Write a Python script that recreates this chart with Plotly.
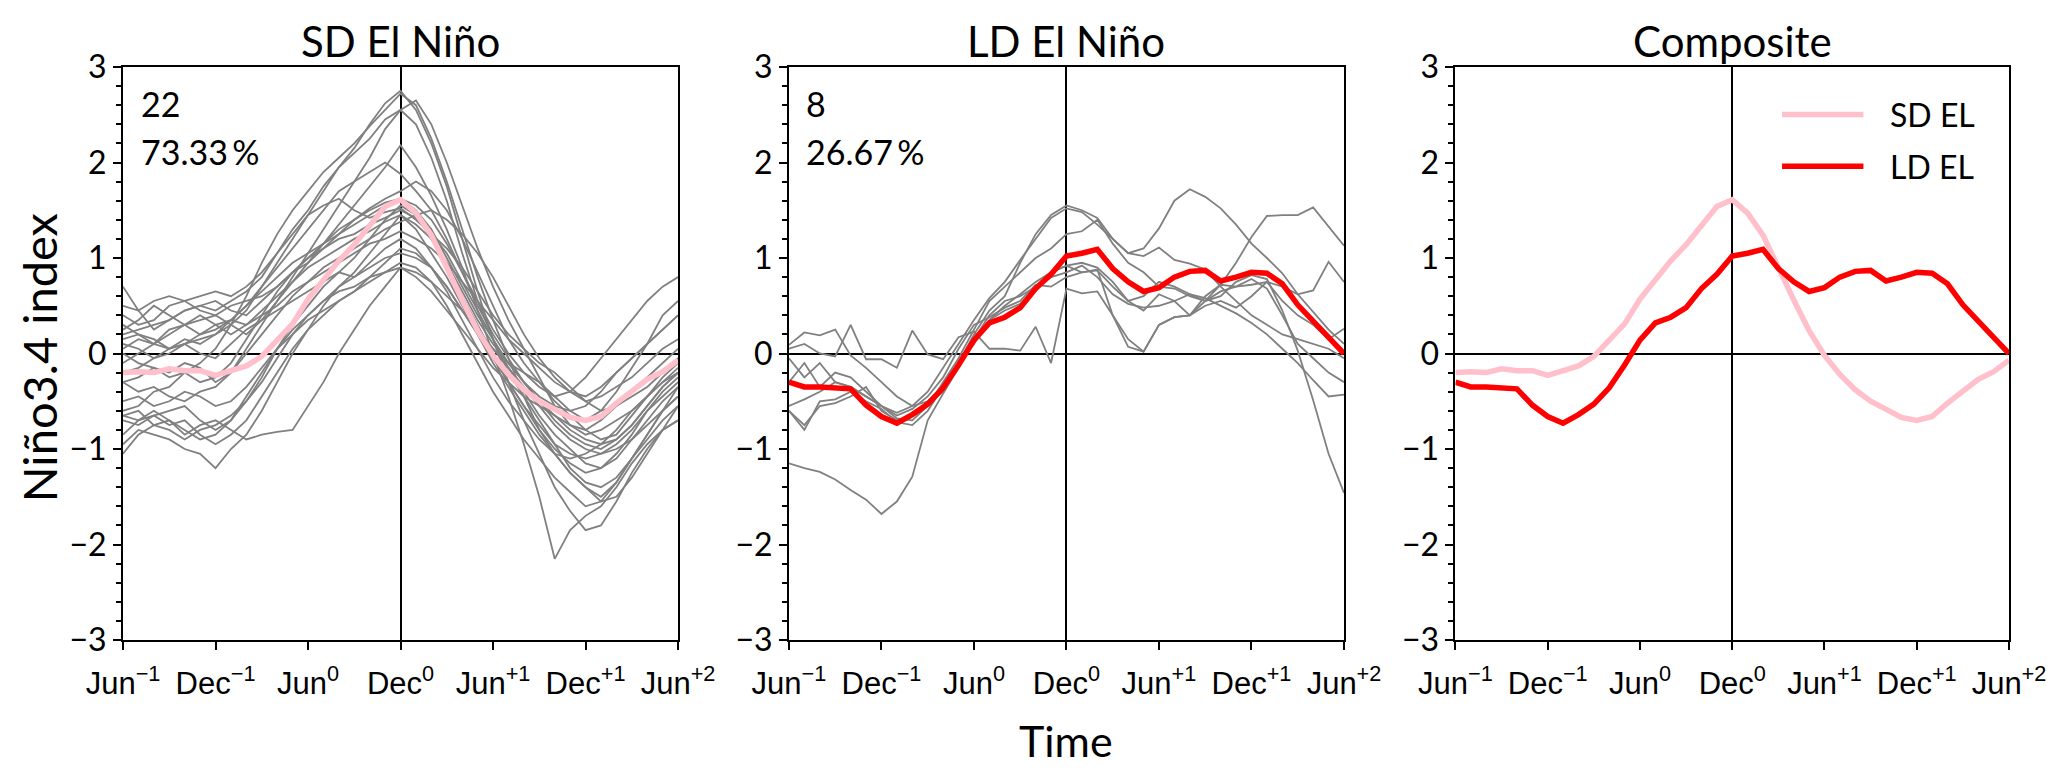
import plotly.graph_objects as go
from plotly.subplots import make_subplots

# Months relative to Dec of the El Nino year (Dec0 = 0), Jun-1 .. Jun+2
MONTHS = list(range(-18, 19))
TICK_VALS = [-18, -12, -6, 0, 6, 12, 18]
TICK_TEXT = [
    "Jun<sup>−1</sup>", "Dec<sup>−1</sup>", "Jun<sup>0</sup>", "Dec<sup>0</sup>",
    "Jun<sup>+1</sup>", "Dec<sup>+1</sup>", "Jun<sup>+2</sup>",
]
PANEL_TITLES = ["SD El Niño", "LD El Niño", "Composite"]

SD_COUNT, SD_SHARE = "22", "73.33\u2009%"
LD_COUNT, LD_SHARE = "8", "26.67\u2009%"

# Composite Nino3.4 index
SD_COMPOSITE = [
    -0.20, -0.19, -0.20, -0.16, -0.18, -0.18, -0.23, -0.18, -0.13, -0.03,
    0.13, 0.31, 0.57, 0.78, 0.97, 1.14, 1.35, 1.54, 1.61, 1.47,
    1.24, 0.89, 0.56, 0.24, -0.02, -0.22, -0.38, -0.50, -0.59, -0.67,
    -0.70, -0.66, -0.52, -0.39, -0.27, -0.19, -0.07,
]
LD_COMPOSITE = [
    -0.30, -0.35, -0.35, -0.36, -0.37, -0.54, -0.66, -0.73, -0.64, -0.53,
    -0.36, -0.12, 0.14, 0.32, 0.38, 0.48, 0.68, 0.83, 1.02, 1.05,
    1.09, 0.89, 0.75, 0.65, 0.69, 0.80, 0.86, 0.87, 0.76, 0.80,
    0.85, 0.84, 0.73, 0.51, 0.33, 0.17, 0.00,
]

# Individual short-duration events
SD_01 = [0.10, 0.05, -0.05, 0.00, 0.10, 0.15, 0.20, 0.30, 0.45, 0.70, 0.95, 1.20, 1.45, 1.70, 1.95, 2.15, 2.40, 2.62, 2.75, 2.55, 2.20, 1.75, 1.20, 0.65, 0.15, -0.30, -0.70, -1.05, -1.40, -1.65, -1.85, -1.80, -1.55, -1.25, -1.00, -0.80, -0.70]
SD_02 = [-0.60, -0.55, -0.40, -0.35, -0.20, -0.10, 0.05, 0.30, 0.60, 0.95, 1.25, 1.50, 1.70, 1.90, 2.05, 2.20, 2.38, 2.55, 2.72, 2.60, 2.25, 1.80, 1.30, 0.80, 0.35, -0.05, -0.45, -0.80, -1.05, -1.25, -1.40, -1.55, -1.50, -1.30, -1.05, -0.80, -0.55]
SD_03 = [0.05, 0.15, 0.10, 0.20, 0.30, 0.35, 0.40, 0.30, 0.20, 0.35, 0.55, 0.80, 1.05, 1.30, 1.55, 1.80, 2.05, 2.35, 2.55, 2.65, 2.40, 2.00, 1.55, 1.10, 0.70, 0.35, 0.05, -0.25, -0.55, -0.75, -0.85, -0.80, -0.70, -0.60, -0.45, -0.30, -0.20]
SD_04 = [0.20, 0.25, 0.30, 0.35, 0.45, 0.50, 0.45, 0.55, 0.65, 0.80, 1.05, 1.30, 1.50, 1.75, 1.95, 2.10, 2.25, 2.45, 2.55, 2.40, 2.05, 1.60, 1.05, 0.55, 0.15, -0.20, -0.45, -0.70, -0.95, -1.20, -1.35, -1.40, -1.30, -1.10, -0.85, -0.60, -0.35]
SD_05 = [-0.30, -0.25, -0.15, -0.20, -0.10, -0.15, -0.30, -0.20, 0.05, 0.30, 0.55, 0.75, 0.95, 1.15, 1.35, 1.55, 1.75, 1.95, 2.18, 1.95, 1.65, 1.30, 0.90, 0.45, 0.00, -0.45, -0.95, -1.50, -2.15, -1.85, -1.70, -1.60, -1.40, -1.15, -0.95, -0.80, -0.70]
SD_06 = [-0.10, 0.00, 0.10, 0.05, 0.15, 0.10, 0.20, 0.35, 0.50, 0.70, 0.90, 1.10, 1.30, 1.50, 1.70, 1.80, 1.90, 2.00, 1.88, 1.70, 1.50, 1.20, 0.85, 0.50, 0.20, -0.05, -0.30, -0.50, -0.65, -0.80, -0.90, -0.95, -0.90, -0.75, -0.55, -0.35, -0.20]
SD_07 = [0.40, 0.30, 0.35, 0.50, 0.55, 0.60, 0.65, 0.60, 0.70, 0.85, 1.05, 1.25, 1.45, 1.55, 1.62, 1.50, 1.42, 1.48, 1.52, 1.40, 1.25, 1.10, 0.90, 0.65, 0.40, 0.20, 0.05, -0.10, -0.20, -0.35, -0.50, -0.60, -0.55, -0.45, -0.35, -0.20, -0.05]
SD_08 = [0.70, 0.45, 0.25, 0.35, 0.45, 0.50, 0.55, 0.45, 0.40, 0.55, 0.70, 0.85, 0.95, 1.10, 1.25, 1.40, 1.52, 1.62, 1.70, 1.80, 1.70, 1.50, 1.20, 0.85, 0.50, 0.15, -0.10, -0.30, -0.50, -0.65, -0.80, -0.90, -0.85, -0.65, -0.45, -0.25, -0.10]
SD_09 = [-0.70, -0.75, -0.65, -0.60, -0.55, -0.70, -0.80, -0.70, -0.50, -0.25, 0.05, 0.30, 0.50, 0.70, 0.85, 1.00, 1.20, 1.40, 1.55, 1.45, 1.20, 0.95, 0.60, 0.30, 0.00, -0.30, -0.55, -0.75, -0.95, -1.05, -1.10, -1.05, -0.95, -0.80, -0.60, -0.45, -0.30]
SD_10 = [-0.95, -0.80, -0.85, -0.90, -1.00, -1.05, -1.20, -1.00, -0.85, -0.60, -0.30, 0.00, 0.25, 0.50, 0.70, 0.85, 1.05, 1.25, 1.45, 1.30, 1.05, 0.80, 0.50, 0.20, -0.10, -0.35, -0.60, -0.85, -1.05, -1.25, -1.40, -1.50, -1.35, -1.10, -0.90, -0.70, -0.55]
SD_11 = [-0.65, -0.70, -0.60, -0.70, -0.85, -0.75, -0.70, -0.80, -0.90, -0.85, -0.82, -0.80, -0.55, -0.30, 0.00, 0.25, 0.50, 0.70, 0.90, 0.85, 0.75, 0.60, 0.45, 0.25, 0.05, -0.15, -0.35, -0.55, -0.75, -0.90, -1.00, -1.05, -1.00, -0.90, -0.75, -0.60, -0.45]
SD_12 = [0.15, 0.20, 0.10, 0.25, 0.30, 0.40, 0.30, 0.20, 0.30, 0.40, 0.50, 0.65, 0.75, 0.85, 0.95, 1.05, 1.15, 1.20, 1.28, 1.20, 1.10, 0.95, 0.75, 0.55, 0.35, 0.15, 0.00, -0.15, -0.30, -0.40, -0.45, -0.35, -0.20, -0.05, 0.10, 0.25, 0.40]
SD_13 = [0.30, 0.20, 0.15, 0.05, 0.10, 0.00, -0.05, 0.10, 0.25, 0.35, 0.45, 0.55, 0.65, 0.75, 0.85, 0.80, 0.90, 1.00, 1.05, 1.00, 0.90, 0.70, 0.45, 0.25, 0.05, -0.10, -0.20, -0.30, -0.45, -0.60, -0.70, -0.60, -0.40, -0.15, 0.10, 0.40, 0.55]
SD_14 = [-0.65, -0.60, -0.75, -0.70, -0.80, -0.90, -0.85, -0.70, -0.45, -0.20, 0.05, 0.25, 0.40, 0.55, 0.65, 0.70, 0.80, 0.85, 0.90, 0.80, 0.65, 0.45, 0.25, 0.05, -0.15, -0.30, -0.45, -0.55, -0.65, -0.75, -0.80, -0.70, -0.55, -0.40, -0.25, -0.10, 0.05]
SD_15 = [-0.20, -0.15, -0.05, 0.05, 0.10, 0.20, 0.30, 0.35, 0.50, 0.65, 0.80, 0.95, 1.05, 1.15, 1.25, 1.35, 1.45, 1.55, 1.62, 1.55, 1.40, 1.15, 0.85, 0.55, 0.25, 0.00, -0.20, -0.35, -0.45, -0.40, -0.25, -0.05, 0.15, 0.35, 0.55, 0.70, 0.80]
SD_16 = [0.00, -0.10, -0.15, -0.25, -0.20, -0.30, -0.25, -0.10, 0.15, 0.40, 0.65, 0.85, 1.00, 1.10, 1.20, 1.25, 1.35, 1.42, 1.50, 1.42, 1.25, 1.05, 0.75, 0.45, 0.15, -0.15, -0.40, -0.65, -0.85, -1.00, -1.15, -1.20, -1.10, -0.90, -0.70, -0.50, -0.35]
SD_17 = [-0.30, -0.40, -0.35, -0.45, -0.50, -0.40, -0.35, -0.20, 0.00, 0.20, 0.40, 0.60, 0.75, 0.90, 1.00, 1.10, 1.20, 1.30, 1.38, 1.45, 1.50, 1.40, 1.25, 1.05, 0.80, 0.50, 0.20, -0.05, -0.25, -0.40, -0.50, -0.45, -0.35, -0.25, -0.10, 0.05, 0.15]
SD_18 = [-0.85, -0.70, -0.65, -0.75, -0.70, -0.85, -0.95, -0.85, -0.70, -0.45, -0.20, 0.05, 0.25, 0.40, 0.55, 0.65, 0.80, 0.95, 1.10, 1.05, 0.90, 0.70, 0.45, 0.20, -0.05, -0.30, -0.55, -0.80, -1.00, -1.15, -1.25, -1.20, -1.05, -0.85, -0.60, -0.40, -0.25]
SD_19 = [0.50, 0.45, 0.55, 0.60, 0.55, 0.45, 0.40, 0.50, 0.55, 0.60, 0.70, 0.85, 1.00, 1.15, 1.30, 1.40, 1.50, 1.58, 1.62, 1.50, 1.30, 1.00, 0.70, 0.40, 0.15, -0.10, -0.30, -0.50, -0.70, -0.85, -0.95, -1.00, -0.90, -0.75, -0.55, -0.35, -0.20]
SD_20 = [-1.05, -0.85, -0.75, -0.80, -0.90, -0.80, -0.75, -0.65, -0.50, -0.30, -0.05, 0.20, 0.40, 0.55, 0.70, 0.80, 0.95, 1.10, 1.20, 1.10, 0.90, 0.65, 0.35, 0.05, -0.25, -0.50, -0.70, -0.90, -1.05, -1.10, -1.05, -0.95, -0.80, -0.60, -0.45, -0.30, -0.15]
SD_21 = [0.25, 0.35, 0.50, 0.40, 0.30, 0.20, 0.25, 0.35, 0.30, 0.45, 0.60, 0.75, 0.90, 1.00, 1.10, 1.20, 1.28, 1.38, 1.45, 1.35, 1.20, 0.95, 0.65, 0.35, 0.10, -0.10, -0.30, -0.45, -0.55, -0.60, -0.55, -0.40, -0.20, -0.05, 0.10, 0.25, 0.40]
SD_22 = [-0.50, -0.45, -0.55, -0.50, -0.40, -0.45, -0.55, -0.50, -0.35, -0.15, 0.05, 0.20, 0.35, 0.45, 0.55, 0.65, 0.75, 0.85, 0.95, 0.90, 0.75, 0.50, 0.20, -0.10, -0.40, -0.65, -0.90, -1.10, -1.30, -1.45, -1.60, -1.55, -1.35, -1.10, -0.85, -0.60, -0.45]

# Individual long-duration events
LD_01 = [-1.15, -1.20, -1.24, -1.32, -1.43, -1.53, -1.68, -1.55, -1.29, -0.70, -0.42, -0.15, 0.12, 0.35, 0.45, 0.52, 0.68, 0.80, 0.85, 0.92, 0.80, 0.62, 0.52, 0.48, 0.50, 0.55, 0.62, 0.58, 0.50, 0.42, 0.32, 0.20, 0.05, -0.10, -0.28, -0.45, -0.43]
LD_02 = [0.05, 0.10, 0.00, -0.03, 0.30, -0.06, -0.06, -0.15, 0.24, -0.01, -0.06, 0.17, 0.23, 0.05, 0.05, 0.03, 0.28, -0.10, 0.68, 0.63, 0.65, 0.40, 0.07, 0.02, 0.30, 0.38, 0.40, 0.60, 0.72, 0.70, 0.78, 0.68, 0.40, 0.10, -0.05, -0.20, -0.30]
LD_03 = [0.09, 0.22, 0.19, 0.25, -0.02, -0.15, -0.30, -0.45, -0.55, -0.50, -0.35, -0.10, 0.20, 0.45, 0.60, 0.95, 1.25, 1.45, 1.55, 1.50, 1.42, 1.20, 1.05, 1.02, 1.11, 0.98, 0.94, 0.88, 0.70, 0.55, 0.40, 0.30, 0.20, 0.15, 0.10, 0.05, -0.05]
LD_04 = [-0.55, -0.48, -0.40, -0.30, -0.35, -0.45, -0.55, -0.62, -0.55, -0.40, -0.15, 0.10, 0.35, 0.58, 0.75, 0.98, 1.20, 1.42, 1.52, 1.48, 1.35, 1.20, 1.05, 1.10, 1.31, 1.60, 1.72, 1.64, 1.52, 1.35, 1.15, 1.00, 0.84, 0.62, 0.43, 0.25, 0.10]
LD_05 = [-0.60, -0.75, -0.55, -0.52, -0.45, -0.35, -0.60, -0.70, -0.65, -0.52, -0.40, -0.10, 0.15, 0.40, 0.55, 0.60, 0.70, 0.85, 0.92, 0.95, 0.90, 0.75, 0.55, 0.60, 0.75, 0.70, 0.62, 0.55, 0.72, 0.95, 1.22, 1.44, 1.45, 1.45, 1.53, 1.33, 1.13]
LD_06 = [-0.30, -0.10, -0.35, -0.20, -0.25, -0.40, -0.55, -0.65, -0.58, -0.45, -0.25, 0.05, 0.30, 0.38, 0.48, 0.55, 0.72, 0.70, 0.80, 0.85, 0.87, 0.70, 0.55, 0.45, 0.62, 0.55, 0.40, 0.50, 0.55, 0.48, 0.60, 0.75, 0.70, 0.62, 0.66, 0.96, 0.75]
LD_07 = [-0.05, -0.25, -0.10, -0.30, -0.35, -0.45, -0.55, -0.68, -0.70, -0.55, -0.30, -0.05, 0.25, 0.55, 0.70, 0.85, 1.00, 1.10, 1.25, 1.28, 1.40, 1.15, 0.95, 0.85, 0.70, 0.68, 0.60, 0.55, 0.60, 0.75, 0.82, 0.78, 0.45, 0.03, -0.49, -1.05, -1.46]
LD_08 = [-0.60, -0.80, -0.50, -0.48, -0.40, -0.50, -0.58, -0.72, -0.75, -0.60, -0.35, -0.10, 0.10, 0.35, 0.50, 0.62, 0.75, 0.85, 0.92, 0.85, 0.88, 0.40, 0.15, 0.02, 0.30, 0.38, 0.40, 0.55, 0.65, 0.70, 0.72, 0.75, 0.55, 0.40, 0.30, 0.15, 0.26]

SD_EVENTS = [SD_01, SD_02, SD_03, SD_04, SD_05, SD_06, SD_07, SD_08, SD_09, SD_10, SD_11,
             SD_12, SD_13, SD_14, SD_15, SD_16, SD_17, SD_18, SD_19, SD_20, SD_21, SD_22]
LD_EVENTS = [LD_01, LD_02, LD_03, LD_04, LD_05, LD_06, LD_07, LD_08]

TEXT_FONT = "Lato"
TICK_FONT = "Liberation Sans"
DOMAINS = [[0.0, 0.2943], [0.3531, 0.6474], [0.7065, 1.0]]


def _add_lines(fig):
    """Grey event lines plus the thick composite in each panel."""
    for col, events, composite, color in [
        (1, SD_EVENTS, SD_COMPOSITE, "pink"),
        (2, LD_EVENTS, LD_COMPOSITE, "red"),
    ]:
        for values in events:
            fig.add_trace(
                go.Scatter(x=MONTHS, y=values, mode="lines",
                           line=dict(color="grey", width=1.8)),
                row=1, col=col,
            )
        fig.add_trace(
            go.Scatter(x=MONTHS, y=composite, mode="lines",
                       line=dict(color=color, width=5.5)),
            row=1, col=col,
        )

    # Composite panel
    fig.add_trace(go.Scatter(x=MONTHS, y=SD_COMPOSITE, mode="lines",
                             line=dict(color="pink", width=5.5)), row=1, col=3)
    fig.add_trace(go.Scatter(x=MONTHS, y=LD_COMPOSITE, mode="lines",
                             line=dict(color="red", width=5.5)), row=1, col=3)


def _style_axes(fig):
    frame = dict(showline=True, linecolor="black", linewidth=2, mirror=True,
                 ticks="outside", ticklen=8, tickwidth=2, tickcolor="black",
                 showgrid=False, zeroline=True, zerolinecolor="black",
                 zerolinewidth=2)
    fig.update_xaxes(range=[-18, 18], tickvals=TICK_VALS, ticktext=TICK_TEXT,
                     tickfont=dict(family=TICK_FONT, size=31, color="black"),
                     ticklabelstandoff=7, **frame)
    fig.update_yaxes(range=[-3, 3], dtick=1,
                     tickfont=dict(family=TEXT_FONT, size=32, color="black"),
                     minor=dict(dtick=0.2, ticks="outside", ticklen=5,
                                tickwidth=1.5, tickcolor="black", showgrid=False),
                     **frame)
    for i, dom in enumerate(DOMAINS, start=1):
        fig.layout[f"xaxis{i if i > 1 else ''}"].domain = dom


def _add_text(fig):
    for i, title in enumerate(PANEL_TITLES):
        fig.add_annotation(text=title, xref="paper", yref="paper",
                           x=sum(DOMAINS[i]) / 2, y=1.045, showarrow=False,
                           xanchor="center", yanchor="middle",
                           font=dict(family=TEXT_FONT, size=42, color="black"))

    for axis, count, share in [("", SD_COUNT, SD_SHARE), ("2", LD_COUNT, LD_SHARE)]:
        for text, ypos in [(count, 0.937), (share, 0.852)]:
            fig.add_annotation(text=text, xref=f"x{axis} domain", yref=f"y{axis} domain",
                               x=0.028, y=ypos, showarrow=False,
                               xanchor="left", yanchor="middle",
                               font=dict(family=TEXT_FONT, size=34, color="black"))

    # Legend of the composite panel
    for name, color, ypos in [("SD EL", "pink", 0.917), ("LD EL", "red", 0.827)]:
        fig.add_shape(type="line", xref="x3 domain", yref="y3 domain",
                      x0=0.590, x1=0.737, y0=ypos, y1=ypos,
                      line=dict(color=color, width=5.5))
        fig.add_annotation(text=name, xref="x3 domain", yref="y3 domain",
                           x=0.782, y=ypos, showarrow=False,
                           xanchor="left", yanchor="middle",
                           font=dict(family=TEXT_FONT, size=32, color="black"))

    fig.add_annotation(text="Niño3.4 index", xref="paper", yref="paper",
                       x=-0.0445, y=0.492, textangle=-90, showarrow=False,
                       xanchor="center", yanchor="middle",
                       font=dict(family=TEXT_FONT, size=47, color="black"))
    fig.add_annotation(text="Time", xref="paper", yref="paper",
                       x=0.5, y=-0.176, showarrow=False,
                       xanchor="center", yanchor="middle",
                       font=dict(family=TEXT_FONT, size=43, color="black"))


def main():
    fig = make_subplots(rows=1, cols=3)
    _add_lines(fig)
    _style_axes(fig)
    _add_text(fig)
    # the page body adds an 8px offset, so the figure is kept 8px smaller
    fig.update_layout(
        width=2060, height=772, showlegend=False,
        margin=dict(l=115, r=59, t=59, b=140),
        paper_bgcolor="white", plot_bgcolor="white",
        font=dict(family=TEXT_FONT, color="black"),
    )
    fig.write_html("out.html")


if __name__ == "__main__":
    main()
